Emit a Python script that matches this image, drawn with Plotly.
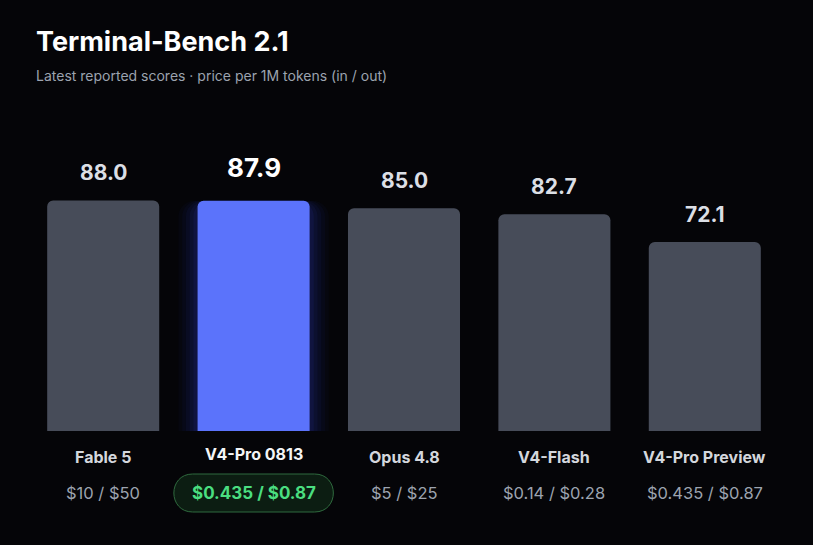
import plotly.graph_objects as go

models = ["Fable 5", "V4-Pro 0813", "Opus 4.8", "V4-Flash", "V4-Pro Preview"]
scores = [88.0, 87.9, 85.0, 82.7, 72.1]
prices = ["$10 / $50", "$0.435 / $0.87", "$5 / $25", "$0.14 / $0.28", "$0.435 / $0.87"]
highlight = "V4-Pro 0813"

FONT = "Inter"
BG = "#050508"
GRAY_BAR = "#474c59"
BLUE = "#5b73fb"

hi = models.index(highlight)
colors = [BLUE if m == highlight else GRAY_BAR for m in models]

fig = go.Figure()

# soft glow behind the highlighted bar
for w, a in [(1.0, 0.03), (0.95, 0.04), (0.90, 0.05), (0.85, 0.06), (0.80, 0.08)]:
    fig.add_trace(go.Bar(
        x=[highlight], y=[scores[hi]], width=w,
        marker=dict(color=f"rgba(60,80,255,{a})", cornerradius=16, line_width=0),
        hoverinfo="skip", showlegend=False,
    ))

fig.add_trace(go.Bar(
    x=models, y=scores, width=0.745,
    marker=dict(color=colors, cornerradius=6, line_width=0),
    showlegend=False,
))

for m, s, p in zip(models, scores, prices):
    is_hi = m == highlight
    fig.add_annotation(
        x=m, y=s, yanchor="middle", yshift=33 if is_hi else 28, showarrow=False,
        text=f"<b>{s:.1f}</b>",
        font=dict(family=FONT, size=26 if is_hi else 21, color="#ffffff" if is_hi else "#dcdfe5"),
    )
    fig.add_annotation(
        x=m, y=0, yanchor="middle", yshift=-23 if is_hi else -26, showarrow=False,
        text=f"<b>{m}</b>",
        font=dict(family=FONT, size=16, color="#f4f5f7" if is_hi else "#d4d7dd"),
    )
    fig.add_annotation(
        x=m, y=0, yanchor="middle", yshift=-62, showarrow=False,
        text=f"<b>{p}</b>" if is_hi else p,
        font=dict(family=FONT, size=17 if is_hi else 16.5, color="#4ade80" if is_hi else "#9ca3af"),
    )

# pill behind the highlighted price (paper y so it isn't clipped to the plot area)
fig.add_shape(
    type="path", xref="x", yref="paper", xsizemode="pixel", ysizemode="pixel",
    xanchor=hi, yanchor=0,
    path="M -61,-43 L 61,-43 C 86,-43 86,-81 61,-81 L -61,-81 C -86,-81 -86,-43 -61,-43 Z",
    fillcolor="#0c1d12", line=dict(color="#2f6a3e", width=1), layer="below",
)

fig.add_annotation(
    xref="paper", yref="paper", x=0, y=1, xanchor="left", yanchor="middle",
    xshift=6, yshift=128, showarrow=False,
    text="<b>Terminal-Bench 2.1</b>",
    font=dict(family=FONT, size=27, color="#ffffff"),
)
fig.add_annotation(
    xref="paper", yref="paper", x=0, y=1, xanchor="left", yanchor="middle",
    xshift=6, yshift=94, showarrow=False,
    text="Latest reported scores · price per 1M tokens (in / out)",
    font=dict(family=FONT, size=14, color="#9ca3af"),
)

fig.update_layout(
    width=813, height=545,
    margin=dict(l=28, r=33, t=169, b=114),
    paper_bgcolor=BG, plot_bgcolor=BG,
    barmode="overlay",
    xaxis=dict(visible=False, range=[-0.5, 4.5], categoryorder="array", categoryarray=models),
    yaxis=dict(visible=False, range=[0, 100]),
    font=dict(family=FONT),
)

fig.write_html(
    "out.html",
    config={"displayModeBar": False},
    post_script="document.body.style.margin='0';document.body.style.background='#050508';",
)
